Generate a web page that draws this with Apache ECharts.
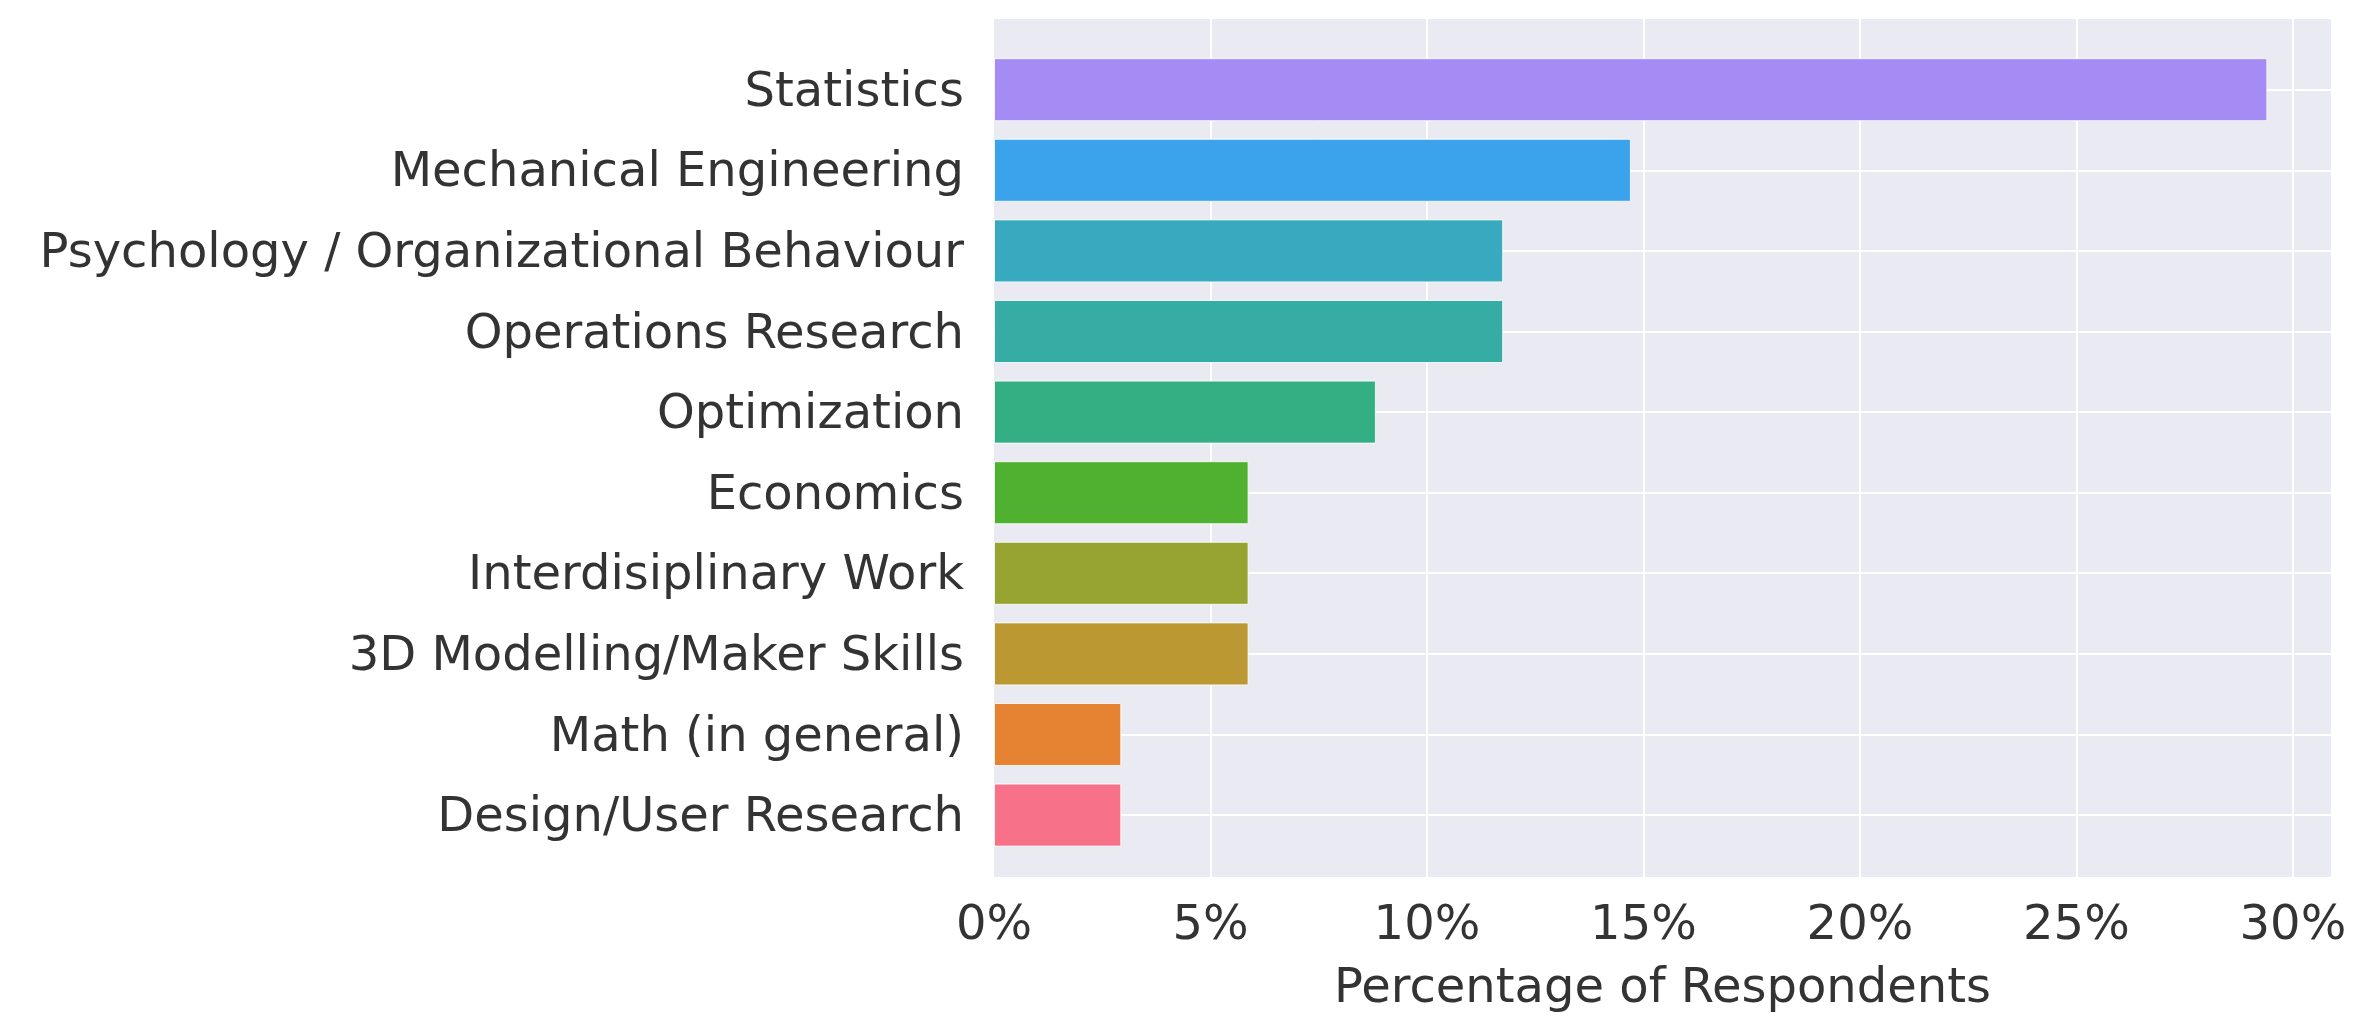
<!DOCTYPE html>
<html>
<head>
<meta charset="utf-8">
<title>Percentage of Respondents</title>
<script src="https://cdn.jsdelivr.net/npm/echarts@6/dist/echarts.min.js"></script>
<style>
  html, body { margin: 0; padding: 0; background: #fff; }
  #chart { width: 2377px; height: 1019px; }
</style>
</head>
<body>
<div id="chart"></div>
<script>
// categories top to bottom
const categories = [
  'Statistics',
  'Mechanical Engineering',
  'Psychology / Organizational Behaviour',
  'Operations Research',
  'Optimization',
  'Economics',
  'Interdisiplinary Work',
  '3D Modelling/Maker Skills',
  'Math (in general)',
  'Design/User Research'
]
const percentages = [29.41, 14.71, 11.76, 11.76, 8.82, 5.88, 5.88, 5.88, 2.94, 2.94]
const xTicks = [0, 5, 10, 15, 20, 25, 30]

// husl palette, one colour per bar
const palette = ['#a48cf4', '#3ba3ec', '#38aabf', '#36ada4', '#34af84',
  '#50b131', '#97a431', '#bb9832', '#e68332', '#f77189']

const textColor = '#333'
const xMax = 30.88

const hidden = {
  axisLine: { show: false },
  axisTick: { show: false },
  axisLabel: { show: false },
  splitLine: { show: false }
}

const chart = echarts.init(document.getElementById('chart'))

const option = {
  animation: false,
  backgroundColor: '#fff',
  textStyle: { fontFamily: 'DejaVu Sans' },
  grid: [
    // background + vertical gridlines + tick labels
    { left: 994, right: 46, top: 19, bottom: 133, show: true, backgroundColor: '#EAEAF2', borderWidth: 0 },
    // bars
    { left: 994, right: 46, top: 49.4, height: 806 },
    // horizontal gridlines through category centres
    { left: 994, right: 46, top: 89.7, height: 725.3 },
    // category labels (nudged down a little to sit like the original)
    { left: 994, right: 46, top: 53, height: 806 }
  ],
  xAxis: [
    {
      gridIndex: 0,
      type: 'value',
      min: 0,
      max: xMax,
      interval: 5,
      name: 'Percentage of Respondents',
      nameLocation: 'middle',
      nameGap: 89,
      nameTextStyle: { color: textColor, fontSize: 48, fontFamily: 'DejaVu Sans', verticalAlign: 'top' },
      axisLine: { show: false },
      axisTick: { show: false },
      axisLabel: {
        color: textColor,
        fontSize: 48,
        margin: 26,
        formatter: v => xTicks.includes(v) ? v + '%' : ''
      },
      splitLine: { show: true, showMinLine: false, showMaxLine: false, lineStyle: { color: '#fff', width: 2 } }
    },
    Object.assign({ gridIndex: 1, type: 'value', min: 0, max: xMax }, hidden),
    Object.assign({ gridIndex: 2, type: 'value', min: 0, max: xMax }, hidden),
    Object.assign({ gridIndex: 3, type: 'value', min: 0, max: xMax }, hidden)
  ],
  yAxis: [
    Object.assign({ gridIndex: 0, type: 'value', min: 0, max: 1 }, hidden),
    Object.assign({ gridIndex: 1, type: 'category', inverse: true, data: categories }, hidden),
    {
      gridIndex: 2,
      type: 'category',
      inverse: true,
      boundaryGap: false,
      data: categories,
      axisLine: { show: false },
      axisTick: { show: false },
      axisLabel: { show: false },
      splitLine: { show: true, lineStyle: { color: '#fff', width: 2 } }
    },
    {
      gridIndex: 3,
      type: 'category',
      inverse: true,
      data: categories,
      axisLine: { show: false },
      axisTick: { show: false },
      splitLine: { show: false },
      axisLabel: { color: textColor, fontSize: 48, margin: 30 }
    }
  ],
  series: [
    {
      type: 'bar',
      xAxisIndex: 1,
      yAxisIndex: 1,
      barWidth: 63,
      data: percentages.map((v, i) => ({ value: v, itemStyle: { color: palette[i] } })),
      itemStyle: { borderColor: 'rgba(255,255,255,0.8)', borderWidth: 1 }
    }
  ]
}

chart.setOption(option)
</script>
</body>
</html>
